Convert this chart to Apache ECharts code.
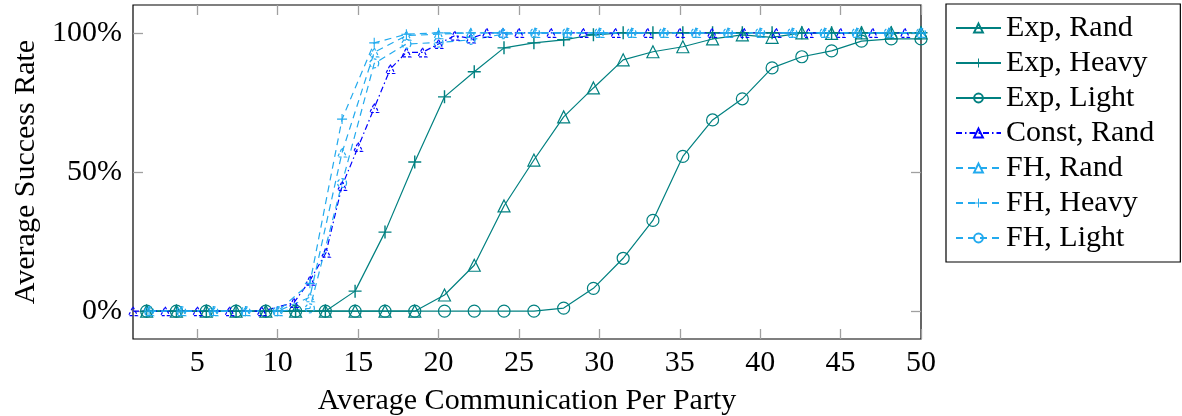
<!DOCTYPE html>
<html>
<head>
<meta charset="utf-8">
<script src="https://cdn.jsdelivr.net/npm/echarts@6/dist/echarts.min.js"></script>
<style>
  html, body { margin: 0; padding: 0; background: #fff; }
  #chart { width: 1182px; height: 416px; }
</style>
</head>
<body>
<div id="chart"></div>
<script>
// Average communication per party for the "Exp" runs
const expX = [1.85, 3.70, 5.56, 7.41, 9.26, 11.11, 12.96, 14.81, 16.67, 18.52, 20.37, 22.22, 24.07, 25.93,
  27.78, 29.63, 31.48, 33.33, 35.19, 37.04, 38.89, 40.74, 42.59, 44.44, 46.30, 48.15, 50];
const expRand  = [0, 0, 0, 0, 0, 0, 0, 0, 0, 0, 5.8, 16.5, 37.8, 54.3, 69.8, 80.2, 90.3, 93.2, 95, 97.8, 99.3, 98.4, 100, 99.8, 100, 100, 100];
const expHeavy = [0, 0, 0, 0, 0, 0, 0, 7.2, 28.4, 53.6, 77, 86, 94.6, 96.4, 97.5, 99.3, 100, 100, 100, 100, 100, 100, 100, 100, 100, 100, 100];
const expLight = [0, 0, 0, 0, 0, 0, 0, 0, 0, 0, 0, 0, 0, 0, 1.1, 8.2, 19, 32.6, 55.6, 68.7, 76.3, 87.4, 91.4, 93.5, 97, 97.8, 97.8];

// "Const" runs
const constX    = [1, 3, 5, 7, 9, 11, 12, 13, 14, 15, 16, 17, 18, 19, 20, 21, 22, 23, 24, 25, 27, 29, 31, 33, 35, 37, 39, 41, 43, 45, 47, 49];
const constRand = [0, 0, 0, 0, 0, 3, 11, 21, 45, 59, 73, 87, 93, 93, 96, 99, 98, 100, 100, 100, 100, 100, 100, 100, 100, 100, 100, 100, 100, 100, 100, 100];

// "FH" runs
const fhX     = [2, 4, 6, 8, 10, 12, 14, 16, 18, 20, 22, 24, 26, 28, 30, 32, 34, 36, 38, 40, 42, 44, 46, 48, 50];
const fhRand  = [0, 0, 0, 0, 0, 5, 57, 93, 99, 99.5, 100, 100, 100, 100, 100, 100, 100, 100, 100, 100, 100, 100, 100, 100, 100];
const fhHeavy = [0, 0, 0, 0, 0, 10, 69, 96.4, 99.5, 100, 100, 100, 100, 100, 100, 100, 100, 100, 100, 100, 100, 100, 100, 100, 100];
const fhLight = [0, 0, 0, 0, 0, 1, 46, 89, 96, 96.5, 97.5, 99.5, 100, 100, 100, 100, 100, 100, 100, 100, 100, 100, 100, 100, 100];

const xTicks = [5, 10, 15, 20, 25, 30, 35, 40, 45, 50];
const yTicks = [0, 50, 100];

const TEAL = '#008080';
const BLUE = '#0000ff';
const SKY = '#22aaee';
const FONT = 'Liberation Serif';
const FS = 30;

const PLUS = 'path://M0,4.45h10v1.1h-10z M4.45,0h1.1v10h-1.1z';

function pairs(xs, ys) { return xs.map((x, i) => [x, ys[i]]); }

function mkSeries(name, xs, ys, color, symbol, size, dash, markDash) {
  const isPlus = symbol === PLUS;
  return {
    name: name,
    type: 'line',
    data: pairs(xs, ys),
    symbol: symbol,
    symbolSize: size,
    showAllSymbol: true,
    clip: false,
    lineStyle: { color: color, width: 1.2, type: dash },
    itemStyle: isPlus
      ? { color: color, borderWidth: 0 }
      : { color: 'rgba(255,255,255,0)', borderColor: color, borderWidth: 1.2, borderType: markDash || 'solid' },
    emphasis: { disabled: true }
  };
}

const tickStyle = { color: '#a0a0a0', width: 1.3 };
const noLine = { show: false, onZero: false };

const chart = echarts.init(document.getElementById('chart'), null, { renderer: 'canvas' });
chart.setOption({
  animation: false,
  backgroundColor: '#fff',
  textStyle: { fontFamily: FONT, color: '#000' },
  grid: {
    left: 133, right: 261, top: 5, bottom: 77,
    outerBoundsMode: 'none', containLabel: false,
    show: true, borderColor: '#000', borderWidth: 1.2, backgroundColor: 'transparent'
  },
  xAxis: [
    {
      type: 'value', min: 1, max: 50, position: 'bottom',
      name: 'Average Communication Per Party', nameLocation: 'middle', nameGap: 47,
      nameTextStyle: { fontFamily: FONT, fontSize: FS, color: '#000' },
      axisLine: noLine,
      axisTick: { show: true, inside: true, length: 10, lineStyle: tickStyle, customValues: xTicks },
      axisLabel: { show: true, margin: 9, fontFamily: FONT, fontSize: FS, color: '#000', customValues: xTicks },
      splitLine: { show: false }
    },
    {
      type: 'value', min: 1, max: 50, position: 'top',
      axisLine: noLine,
      axisTick: { show: true, inside: true, length: 10, lineStyle: tickStyle, customValues: xTicks },
      axisLabel: { show: false },
      splitLine: { show: false }
    }
  ],
  yAxis: [
    {
      type: 'value', min: -10, max: 110, position: 'left',
      name: 'Average Success Rate', nameLocation: 'middle', nameGap: 86, nameRotate: 90,
      nameTextStyle: { fontFamily: FONT, fontSize: FS, color: '#000' },
      axisLine: noLine,
      axisTick: { show: true, inside: true, length: 10, lineStyle: tickStyle, customValues: yTicks },
      axisLabel: { show: true, margin: 11, fontFamily: FONT, fontSize: FS, color: '#000', customValues: yTicks, formatter: v => v + '%' },
      splitLine: { show: false }
    },
    {
      type: 'value', min: -10, max: 110, position: 'right',
      axisLine: noLine,
      axisTick: { show: true, inside: true, length: 10, lineStyle: tickStyle, customValues: yTicks },
      axisLabel: { show: false },
      splitLine: { show: false }
    }
  ],
  legend: {
    orient: 'vertical',
    left: 946, top: 4,
    padding: [9, 26, 9, 9],
    borderColor: '#000', borderWidth: 1.2,
    itemWidth: 45, itemHeight: 11, itemGap: 5,
    textStyle: { fontFamily: FONT, fontSize: FS, color: '#000', lineHeight: 30 },
    selectedMode: false
  },
  series: [
    mkSeries('Exp, Rand', expX, expRand, TEAL, 'triangle', 12, 'solid'),
    mkSeries('Exp, Heavy', expX, expHeavy, TEAL, PLUS, 13, 'solid'),
    mkSeries('Exp, Light', expX, expLight, TEAL, 'circle', 12, 'solid'),
    mkSeries('Const, Rand', constX, constRand, BLUE, 'triangle', 9, [6, 3, 1.5, 3], [3, 2]),
    mkSeries('FH, Rand', fhX, fhRand, SKY, 'triangle', 9, [7, 5], [3, 2]),
    mkSeries('FH, Heavy', fhX, fhHeavy, SKY, PLUS, 10, [7, 5]),
    mkSeries('FH, Light', fhX, fhLight, SKY, 'circle', 9, [7, 5], [3, 2])
  ]
});
</script>
</body>
</html>
